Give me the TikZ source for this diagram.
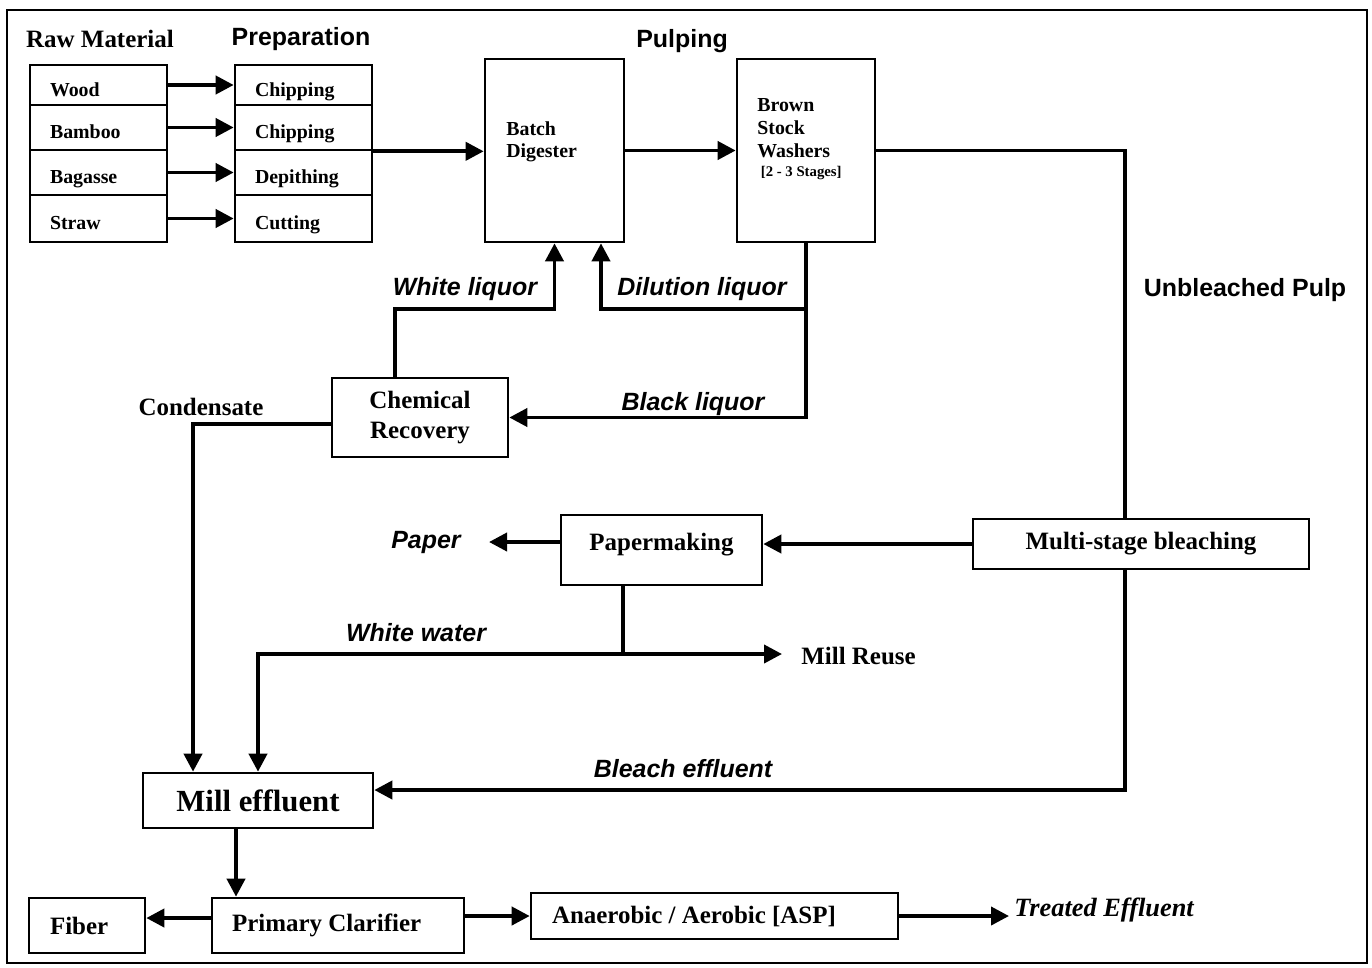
\documentclass[tikz,border=0pt]{standalone}
\usepackage{fontspec}
\setmainfont{Liberation Serif}
\newfontfamily\arialfont{Liberation Sans}
\usetikzlibrary{arrows.meta}

\tikzset{
  box/.style={draw, line width=1.5pt, inner sep=0pt, font=\bfseries\fontsize{14.2}{17}\selectfont},
  rowbox/.style={box, minimum width=2.74cm, text width=1.94cm, inner xsep=0.4cm, align=flush left,
    font=\bfseries\fontsize{11.3}{13}\selectfont, text height=13pt, text depth=0pt},
  boxtext/.style={inner sep=0pt, anchor=north west, align=flush left, font=\bfseries\fontsize{11.3}{13}\selectfont},
  flow/.style={line width=2.2pt, -{Triangle[length=0.36cm,width=0.36cm]}},
  pipe/.style={line width=2.2pt},
  stage/.style={inner sep=0pt, font=\arialfont\bfseries\fontsize{14.2}{17}\selectfont},
  stream/.style={inner sep=0pt, font=\arialfont\bfseries\itshape\fontsize{14.2}{17}\selectfont},
  note/.style={inner sep=0pt, font=\bfseries\fontsize{14.2}{17}\selectfont},
}

\begin{document}
\begin{tikzpicture}[x=0.02cm, y=-0.02cm]
  \useasboundingbox (0,0) rectangle (1372,967);
  \draw[line width=1.1pt] (7,10) rectangle (1367,963);

  % headings
  \node[note] (rawh) at (100,39) {Raw Material};
  \node[stage] (preph) at (301,39) {Preparation};
  \node[stage] (pulph) at (682,41) {Pulping};

  % raw material -> preparation
  \foreach \n/\r/\p/\y/\h in {1/Wood/Chipping/85/0.8cm, 2/Bamboo/Chipping/127.5/0.9cm,
      3/Bagasse/Depithing/172.5/0.9cm, 4/Straw/Cutting/218.5/0.94cm}{
    \node[rowbox, minimum height=\h] (raw\n) at (98.5,\y) {\r};
    \node[rowbox, minimum height=\h] (prep\n) at (303.5,\y) {\p};
    \draw[flow] (raw\n.east) -- (raw\n.east -| prep\n.west);
  }

  % pulping
  \node[box, minimum width=2.78cm, minimum height=3.66cm] (dig) at (554.5,150.5) {};
  \node[boxtext] (digtxt) at (506,121) {Batch\\Digester};
  \node[box, minimum width=2.76cm, minimum height=3.66cm] (wash) at (806,150.5) {};
  \node[boxtext] (washtxt) at (757,98) {Brown\\Stock\\Washers\\[-2pt]\hspace{2pt}{\fontsize{8.4}{10}\selectfont[2 - 3 Stages]}};
  \node[box, minimum width=3.52cm, minimum height=1.58cm, align=center] (chem) at (420,417.5) {Chemical\\Recovery};

  \node[stream] (wliq) at (465,289) {White liquor};
  \node[stream] (dliq) at (702,289) {Dilution liquor};
  \node[stream] (bliq) at (693,404) {Black liquor};
  \node[note] (cond) at (201,407) {Condensate};
  \node[stage] (ubp) at (1245,290) {Unbleached Pulp};

  % bleaching and papermaking
  \node[box, minimum width=6.72cm, minimum height=1cm] (bleach) at (1141,544) {Multi-stage bleaching};
  \node[box, minimum width=4.02cm, minimum height=1.4cm, text height=10pt, text depth=10pt] (paper) at (661.5,550) {Papermaking};
  \node[stream] (ptxt) at (426,542) {Paper};
  \node[stream] (wwtxt) at (416,633) {White water};
  \node[note, anchor=west] (reuse) at (801,656) {Mill Reuse};
  \node[stream] (bleff) at (683,769) {Bleach effluent};

  % effluent treatment
  \node[box, minimum width=4.6cm, minimum height=1.1cm, font=\bfseries\fontsize{17.5}{20}\selectfont] (mill) at (258,800.5) {Mill effluent};
  \node[box, minimum width=2.32cm, minimum height=1.1cm, text width=1.48cm, inner xsep=0.42cm, align=flush left] (fiber) at (87,925.5) {Fiber};
  \node[box, minimum width=5.04cm, minimum height=1.1cm, text width=4.24cm, inner xsep=0.4cm, align=flush left] (clar) at (338,925.5) {Primary Clarifier};
  \node[box, minimum width=7.34cm, minimum height=0.92cm, text width=6.5cm, inner xsep=0.42cm, align=flush left] (anae) at (714.5,916) {Anaerobic / Aerobic [ASP]};
  \node[note, anchor=west, font=\bfseries\itshape\fontsize{15}{18}\selectfont] (treat) at (1014,910) {Treated Effluent};

  \coordinate (dil) at (806,309);
  \coordinate (up) at (1125,0);
  \coordinate (ww) at (623,654);
  \coordinate (drop) at ([xshift=-0.44cm]mill.south);

  % connectors
  \draw[flow] (prep2.south east) -- (prep2.south east -| dig.west);
  \draw[flow] (dig.east) -- (wash.west);
  \draw[flow] (wash.south) |- (chem.east);
  \draw[flow] (dil) -| ([xshift=0.93cm]dig.south);
  \draw[flow] ([xshift=-0.5cm]chem.north) |- (dig.south |- dil) -- (dig.south);
  \draw[pipe] (wash.east) -| (up |- bleach.north);
  \draw[flow] (up |- bleach.south) |- ([yshift=0.21cm]mill.east);
  \draw[flow] (bleach.west) -- (bleach.west -| paper.east);
  \draw[flow] (paper.west |- ptxt) -- ([xshift=0.56cm]ptxt.east);
  \draw[pipe] (paper.south -| ww) -- (ww);
  \draw[flow, shorten >=0.38cm] (ww) -- (ww -| reuse.west);
  \draw[flow] (ww) -| (mill.north);
  \draw[flow] ([yshift=-0.13cm]chem.west) -| ([xshift=-1.3cm]mill.north);
  \draw[flow] (drop) -- (drop |- clar.north);
  \draw[flow] ([yshift=0.15cm]clar.west) -- ([yshift=0.15cm]fiber.east);
  \draw[flow] (clar.east |- anae) -- (anae.west);
  \draw[flow, shorten >=0.1cm] (anae.east) -- (anae.east -| treat.west);
\end{tikzpicture}
\end{document}
